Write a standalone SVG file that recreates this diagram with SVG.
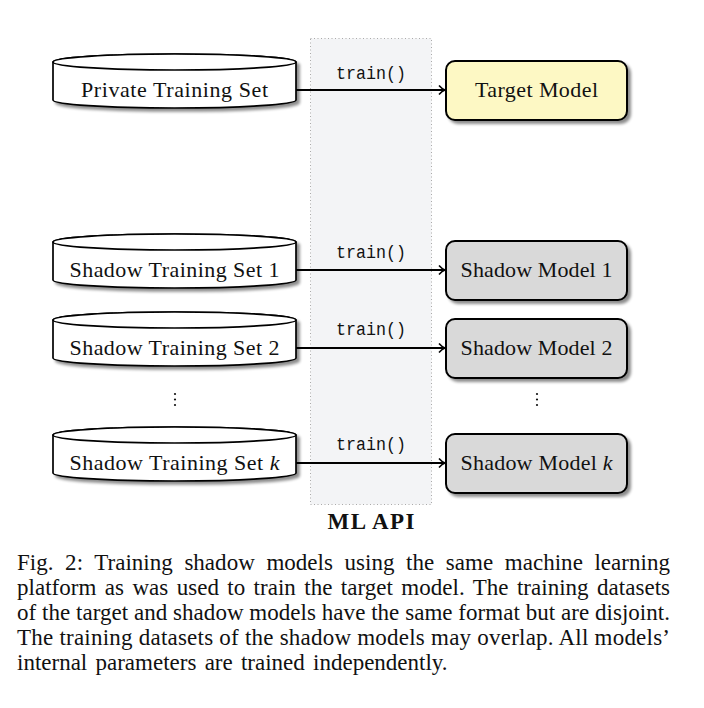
<svg xmlns="http://www.w3.org/2000/svg" width="704" height="708" viewBox="0 0 704 708">
<style>
.cyl{fill:#fff;stroke:#000;stroke-width:1.7}
.lbl{font-family:"Liberation Serif","DejaVu Serif",serif;font-size:22px;fill:#111;text-anchor:middle}
.tr{font-family:"Liberation Mono","DejaVu Sans Mono",monospace;font-size:19px;fill:#111;text-anchor:middle}
.box{stroke:#000;stroke-width:2}
.conn{stroke:#000;stroke-width:2;fill:none;marker-end:url(#ah)}
.cap{font-family:"Liberation Serif","Times New Roman",serif;font-size:23px;fill:#111}
</style>
<defs>
<filter id="sh" x="-10%" y="-10%" width="130%" height="140%">
<feGaussianBlur in="SourceAlpha" stdDeviation="1.5"/>
<feOffset dx="3" dy="3" result="b"/>
<feComponentTransfer><feFuncA type="linear" slope="0.45"/></feComponentTransfer>
<feMerge><feMergeNode/><feMergeNode in="SourceGraphic"/></feMerge>
</filter>
<marker id="ah" markerWidth="10" markerHeight="12" refX="8" refY="6" orient="auto" markerUnits="userSpaceOnUse">
<path d="M2,1.5 Q5,5 8,6 Q5,7 2,10.5" fill="none" stroke="#000" stroke-width="1.6"/>
</marker>
</defs>
<rect width="704" height="708" fill="#fff"/>
<g id="ml-api">
<rect x="310.5" y="38.5" width="121" height="466" fill="#f3f4f6" stroke="#aaa" stroke-width="1" stroke-dasharray="1,2.5"/>
<text x="371" y="529" font-family="Liberation Serif,serif" font-weight="bold" font-size="23" text-anchor="middle" fill="#111" textLength="87" lengthAdjust="spacing">ML API</text>
</g>
<g id="connectors">
<path class="conn" d="M296,90 H445"/>
<path class="conn" d="M296,270 H445"/>
<path class="conn" d="M296,348 H445"/>
<path class="conn" d="M296,463 H445"/>
<text class="tr" x="371" y="79" textLength="70" lengthAdjust="spacingAndGlyphs">train()</text>
<text class="tr" x="371" y="258" textLength="70" lengthAdjust="spacingAndGlyphs">train()</text>
<text class="tr" x="371" y="335" textLength="70" lengthAdjust="spacingAndGlyphs">train()</text>
<text class="tr" x="371" y="450" textLength="70" lengthAdjust="spacingAndGlyphs">train()</text>
</g>
<g id="private-set" filter="url(#sh)">
<path class="cyl" d="M53,62 V100 A121.5,8 0 0 0 296,100 V62 A121.5,8 0 0 0 53,62 Z"/>
<ellipse class="cyl" cx="174.5" cy="62" rx="121.5" ry="8"/>
</g>
<text class="lbl" x="174.5" y="97" textLength="187" lengthAdjust="spacing">Private Training Set</text>
<g id="shadow-set-1" filter="url(#sh)">
<path class="cyl" d="M53,242 V280 A121.5,8 0 0 0 296,280 V242 A121.5,8 0 0 0 53,242 Z"/>
<ellipse class="cyl" cx="174.5" cy="242" rx="121.5" ry="8"/>
</g>
<text class="lbl" x="174.5" y="277" textLength="210" lengthAdjust="spacing">Shadow Training Set 1</text>
<g id="shadow-set-2" filter="url(#sh)">
<path class="cyl" d="M53,320 V358 A121.5,8 0 0 0 296,358 V320 A121.5,8 0 0 0 53,320 Z"/>
<ellipse class="cyl" cx="174.5" cy="320" rx="121.5" ry="8"/>
</g>
<text class="lbl" x="174.5" y="355" textLength="210" lengthAdjust="spacing">Shadow Training Set 2</text>
<g id="shadow-set-k" filter="url(#sh)">
<path class="cyl" d="M53,435 V473 A121.5,8 0 0 0 296,473 V435 A121.5,8 0 0 0 53,435 Z"/>
<ellipse class="cyl" cx="174.5" cy="435" rx="121.5" ry="8"/>
</g>
<text class="lbl" x="174.5" y="470" textLength="210" lengthAdjust="spacing">Shadow Training Set <tspan font-style="italic">k</tspan></text>
<g id="target-model">
<rect class="box" x="446" y="61" width="181" height="59" rx="9" fill="#fdf8c4" filter="url(#sh)"/>
<text class="lbl" x="536.5" y="97" textLength="123" lengthAdjust="spacing">Target Model</text>
</g>
<g id="shadow-model-1">
<rect class="box" x="446" y="241" width="181" height="59" rx="9" fill="#d9d9d9" filter="url(#sh)"/>
<text class="lbl" x="536.5" y="277" textLength="152" lengthAdjust="spacing">Shadow Model 1</text>
</g>
<g id="shadow-model-2">
<rect class="box" x="446" y="319" width="181" height="59" rx="9" fill="#d9d9d9" filter="url(#sh)"/>
<text class="lbl" x="536.5" y="355" textLength="152" lengthAdjust="spacing">Shadow Model 2</text>
</g>
<g id="shadow-model-k">
<rect class="box" x="446" y="434" width="181" height="59" rx="9" fill="#d9d9d9" filter="url(#sh)"/>
<text class="lbl" x="536.5" y="470" textLength="152" lengthAdjust="spacing">Shadow Model <tspan font-style="italic">k</tspan></text>
</g>
<g id="dots" fill="#111">
<circle cx="175" cy="394" r="1.1"/><circle cx="175" cy="399.5" r="1.1"/><circle cx="175" cy="405" r="1.1"/>
<circle cx="537" cy="394" r="1.1"/><circle cx="537" cy="399.5" r="1.1"/><circle cx="537" cy="405" r="1.1"/>
</g>
<g id="caption">
<text class="cap" x="17" y="570" word-spacing="5.8" textLength="653" lengthAdjust="spacing">Fig. 2: Training shadow models using the same machine learning</text>
<text class="cap" x="17" y="595" word-spacing="2.6" textLength="653" lengthAdjust="spacing">platform as was used to train the target model. The training datasets</text>
<text class="cap" x="17" y="620" textLength="653" lengthAdjust="spacing">of the target and shadow models have the same format but are disjoint.</text>
<text class="cap" x="17" y="645" textLength="653" lengthAdjust="spacing">The training datasets of the shadow models may overlap. All models’</text>
<text class="cap" x="17" y="670" word-spacing="2.5">internal parameters are trained independently.</text>
</g>
</svg>
